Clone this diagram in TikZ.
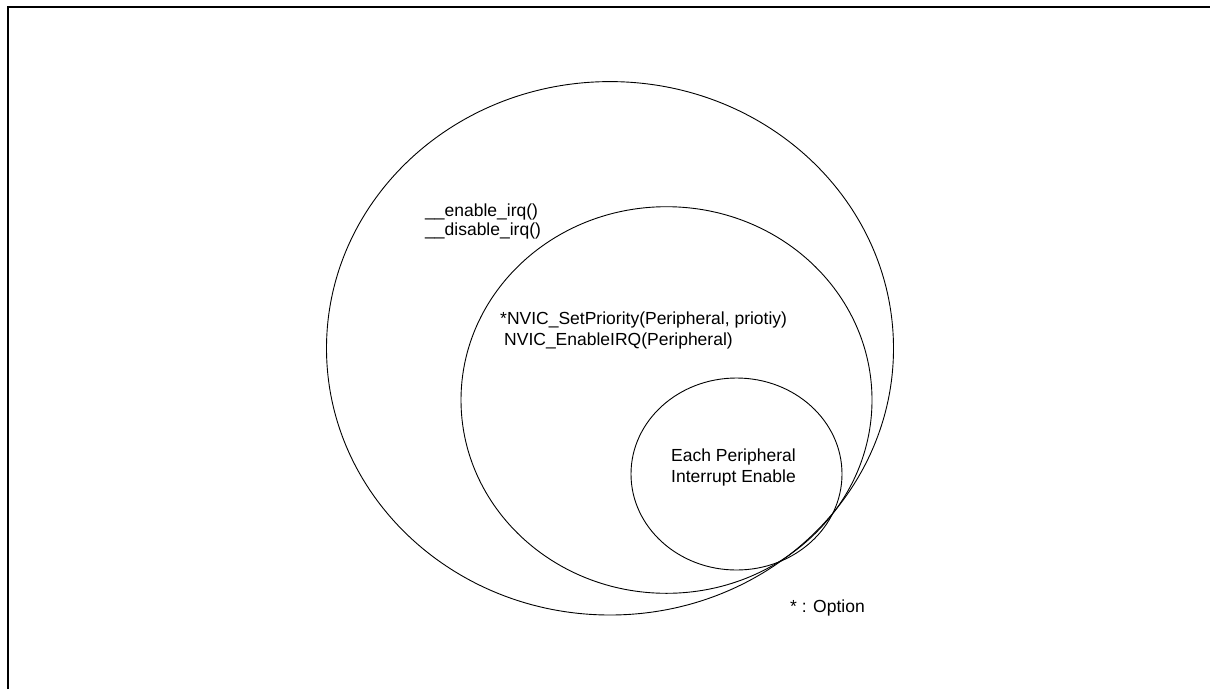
\documentclass[tikz,border=0pt]{standalone}
\usepackage{fontspec}
\setmainfont{Liberation Sans}
\begin{document}
\begin{tikzpicture}[x=1pt,y=-1pt,
  ring/.style={draw=black,line width=0.9pt},
  lbl/.style={font=\fontsize{17.5}{21}\selectfont,inner sep=0pt},
  frame/.style={draw=black,line width=2pt}]
\useasboundingbox (0,0) rectangle (1210,689);
\fill[white] (0,0) rectangle (1210,689);
\draw[frame] (7.5,689) -- (7.5,6.5) -- (1210,6.5);
\draw[ring] (610,348.3) ellipse [x radius=283.5, y radius=266.7];
\draw[ring] (666.5,400) ellipse [x radius=205.5, y radius=193.3];
\draw[ring] (736.5,474) ellipse [x radius=105.5, y radius=96];
\node[lbl,anchor=west] (en) at (425,212) {\_\_enable\_irq()};
\node[lbl,anchor=west] (dis) at (425,231) {\_\_disable\_irq()};
\node[lbl,anchor=west] (prio) at (500,320) {*NVIC\_SetPriority(Peripheral, priotiy)};
\node[lbl,anchor=west] (enirq) at (504,341) {NVIC\_EnableIRQ(Peripheral)};
\node[lbl,align=center] (each) at (733.5,467) {Each Peripheral\\Interrupt Enable};
\node[lbl,anchor=west] (opt) at (790,608) {* : Option};
\end{tikzpicture}
\end{document}
